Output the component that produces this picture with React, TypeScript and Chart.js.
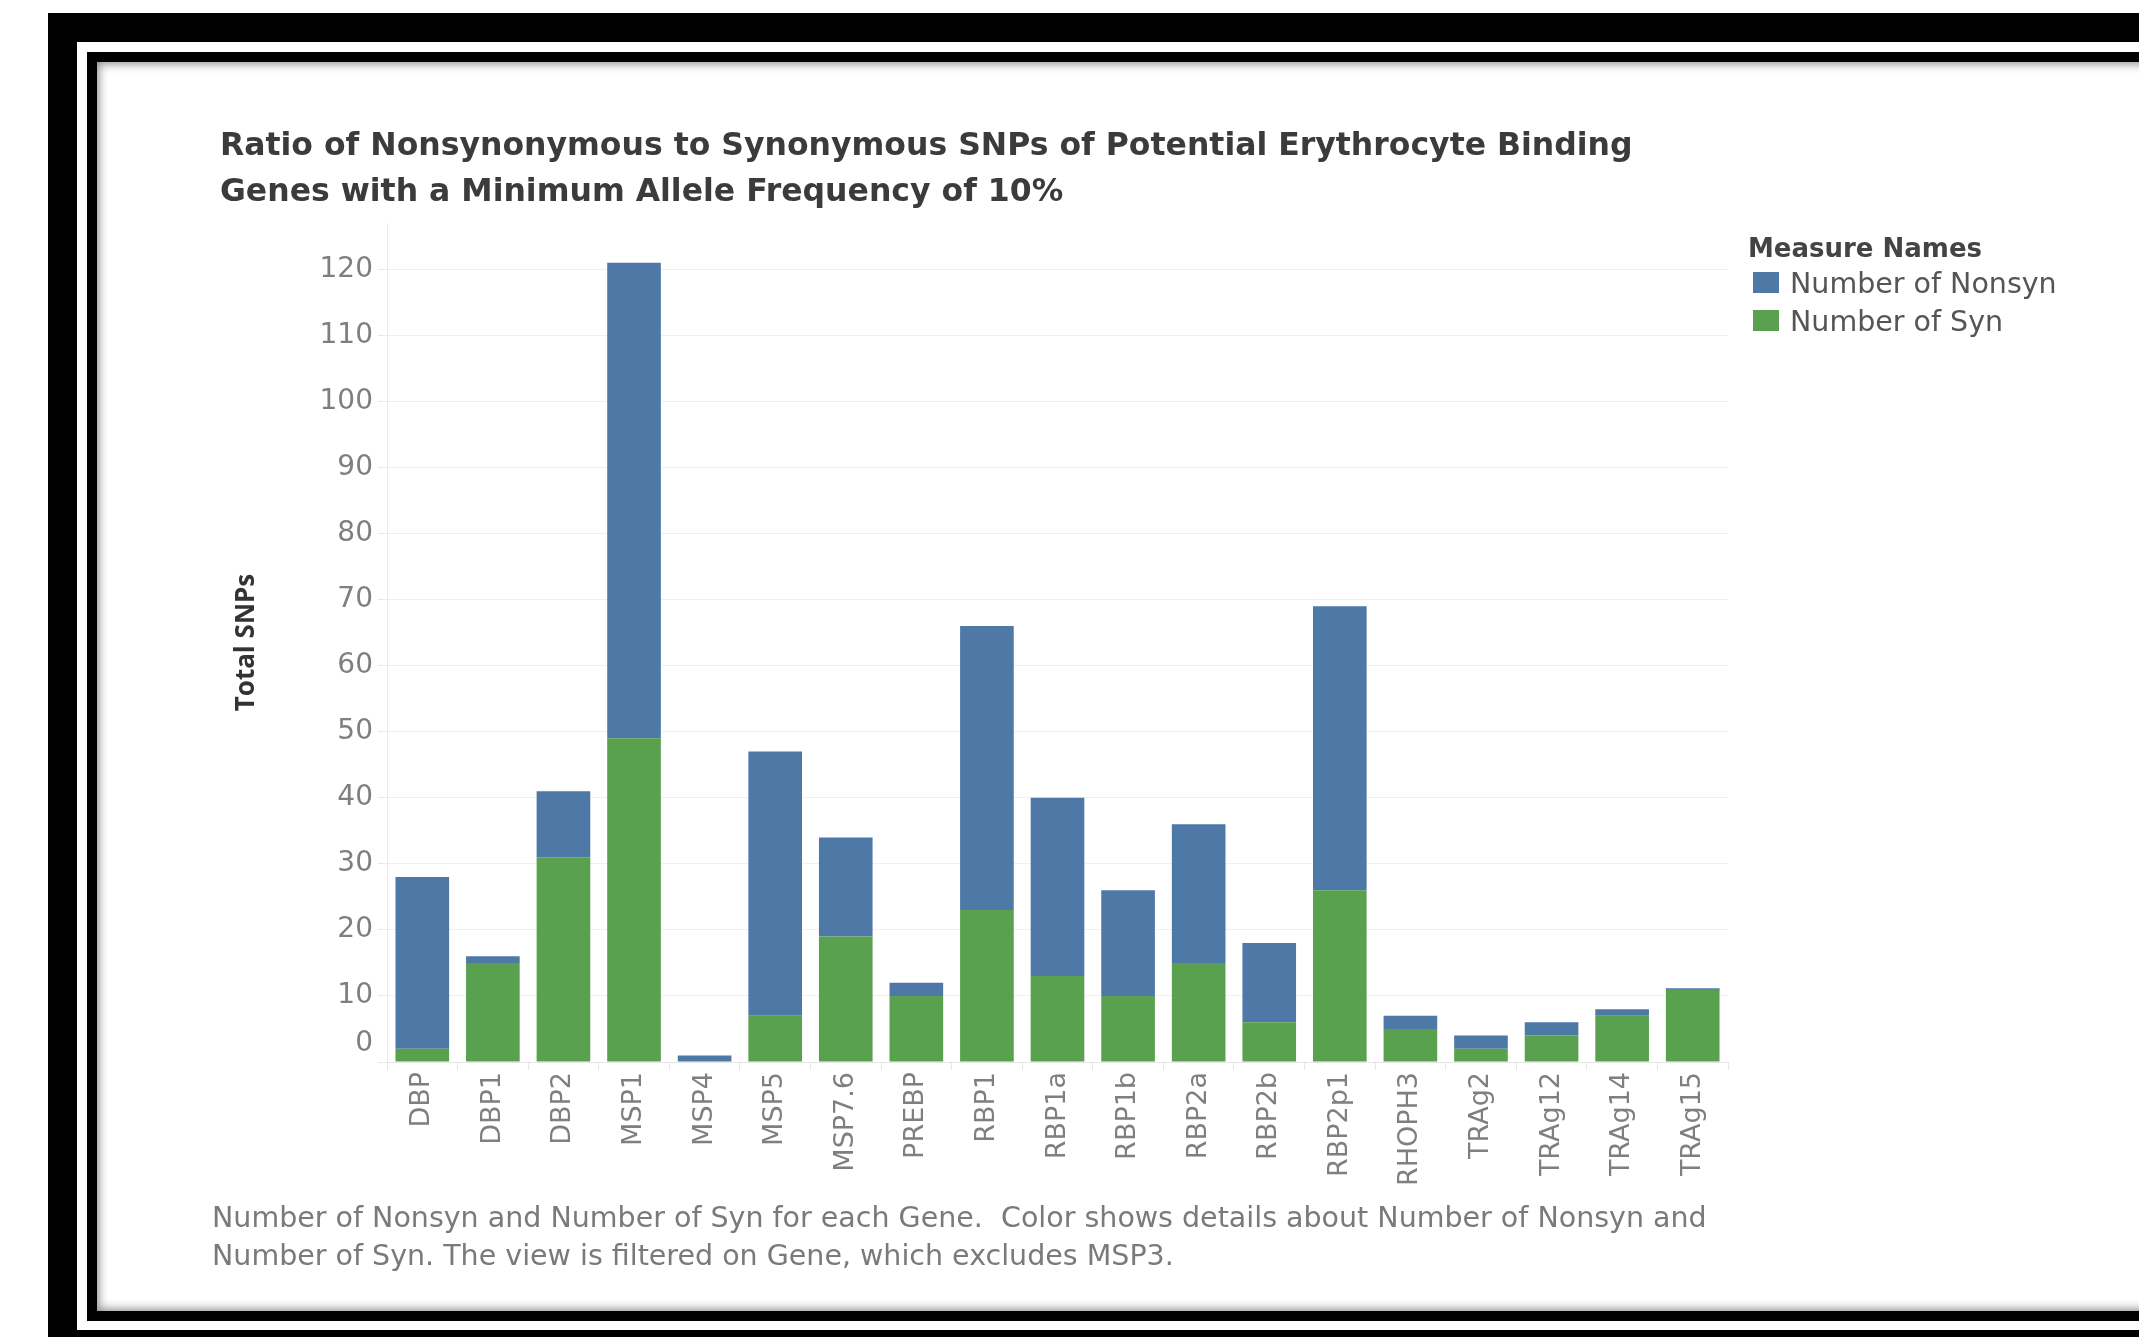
import React, { useEffect, useRef } from 'react';
import { Chart, registerables } from 'chart.js';

Chart.register(...registerables);

// Genes on the category axis
const genes = [
  'DBP', 'DBP1', 'DBP2', 'MSP1', 'MSP4', 'MSP5', 'MSP7.6', 'PREBP', 'RBP1', 'RBP1a',
  'RBP1b', 'RBP2a', 'RBP2b', 'RBP2p1', 'RHOPH3', 'TRAg2', 'TRAg12', 'TRAg14', 'TRAg15',
];

// SNP counts per gene
const nonsynCounts = [26, 1, 10, 72, 1, 40, 15, 2, 43, 27, 16, 21, 12, 43, 2, 2, 2, 1, 0];
const synCounts = [2, 15, 31, 49, 0, 7, 19, 10, 23, 13, 10, 15, 6, 26, 5, 2, 4, 7, 11];

const yMin = 0;
const yMax = 127;
const yStep = 10;

const titleLines = [
  'Ratio of Nonsynonymous to Synonymous SNPs of Potential Erythrocyte Binding',
  'Genes with a Minimum Allele Frequency of 10%',
];
const captionLines = [
  'Number of Nonsyn and Number of Syn for each Gene.  Color shows details about Number of Nonsyn and',
  'Number of Syn. The view is filtered on Gene, which excludes MSP3.',
];
const legendTitle = 'Measure Names';
const nonsynLabel = 'Number of Nonsyn';
const synLabel = 'Number of Syn';
const yAxisTitle = 'Total SNPs';

const BLUE = '#4e79a7';
const GREEN = '#59a14f';
const FONT = '"DejaVu Sans", sans-serif';

// Draws the sheet title, caption and colour legend around the plot
const sheetTextPlugin = {
  id: 'sheetText',
  afterDraw(chart: any) {
    const ctx: CanvasRenderingContext2D = chart.ctx;
    ctx.save();
    ctx.textAlign = 'left';
    ctx.textBaseline = 'alphabetic';

    ctx.fillStyle = '#3b3b3b';
    ctx.font = `bold 31.5px ${FONT}`;
    titleLines.forEach((t, i) => ctx.fillText(t, 220, 155 + i * 45.5));

    ctx.fillStyle = '#7a7a7a';
    ctx.font = `28.5px ${FONT}`;
    captionLines.forEach((t, i) => ctx.fillText(t, 212, 1226.5 + i * 38.5));

    ctx.fillStyle = '#444444';
    ctx.font = `bold 26px ${FONT}`;
    ctx.fillText(legendTitle, 1748, 257);

    const items = [
      { label: nonsynLabel, color: BLUE },
      { label: synLabel, color: GREEN },
    ];
    ctx.font = `28.5px ${FONT}`;
    items.forEach((it, i) => {
      const base = 293 + i * 38;
      ctx.fillStyle = it.color;
      ctx.fillRect(1753, base - 21, 26, 21);
      ctx.fillStyle = '#555555';
      ctx.fillText(it.label, 1790, base);
    });
    ctx.restore();
  },
};

export default function App() {
  const canvasRef = useRef<HTMLCanvasElement>(null);

  useEffect(() => {
    const canvas = canvasRef.current;
    if (!canvas) return;
    const chart = new Chart(canvas, {
      type: 'bar',
      data: {
        labels: genes,
        datasets: [
          {
            label: synLabel,
            data: synCounts,
            backgroundColor: GREEN,
            barPercentage: 0.76,
            categoryPercentage: 1,
          },
          {
            label: nonsynLabel,
            data: nonsynCounts,
            backgroundColor: BLUE,
            barPercentage: 0.76,
            categoryPercentage: 1,
            minBarLength: 2,
          },
        ],
      },
      options: {
        responsive: false,
        maintainAspectRatio: false,
        animation: false,
        devicePixelRatio: 1,
        layout: { padding: { left: 200, top: 223, right: 411, bottom: 125 } },
        plugins: {
          legend: { display: false },
          tooltip: { enabled: false },
          title: { display: false },
        },
        scales: {
          x: {
            stacked: true,
            offset: true,
            grid: {
              offset: true,
              drawOnChartArea: false,
              drawTicks: true,
              tickLength: 8,
              color: '#e6e6e6',
            },
            border: { display: true, color: '#e6e6e6' },
            ticks: {
              autoSkip: false,
              minRotation: 90,
              maxRotation: 90,
              padding: 2,
              color: '#7f7f7f',
              font: { family: FONT, size: 27 },
            },
            afterFit: (scale: any) => {
              scale.height = 150;
            },
          },
          y: {
            stacked: true,
            min: yMin,
            max: yMax,
            afterBuildTicks: (scale: any) => {
              scale.ticks = scale.ticks.filter((t: any) => t.value % yStep === 0);
            },
            ticks: {
              stepSize: yStep,
              autoSkip: false,
              padding: 5,
              color: '#7f7f7f',
              font: { family: FONT, size: 28, lineHeight: 1.3 },
              callback: (v: any) => (v === 0 ? ['0', ''] : String(v)),
            },
            grid: {
              color: '#f0f0f0',
              tickColor: '#e8e8e8',
              tickLength: 9,
            },
            border: { display: true, color: '#ececec' },
            title: {
              display: true,
              text: yAxisTitle,
              color: '#333333',
              font: { family: '"Open Sans", sans-serif', size: 26, weight: 'bold', lineHeight: 1.2 },
              padding: { top: 31, bottom: 0 },
            },
            afterFit: (scale: any) => {
              scale.width = 187;
            },
          },
        },
      },
      plugins: [sheetTextPlugin],
    } as any);
    return () => chart.destroy();
  }, []);

  const box = (left: number, top: number, height: number, bg: string, extra: any = {}) => (
    <div
      style={{
        position: 'absolute',
        left,
        top,
        width: 2300,
        height,
        background: bg,
        ...extra,
      }}
    />
  );

  return (
    <div
      style={{
        position: 'absolute',
        left: 0,
        top: 0,
        width: 2139,
        height: 1337,
        overflow: 'hidden',
        background: '#ffffff',
      }}
    >
      {box(48, 13, 1400, '#000000')}
      {box(77, 42, 1288, '#ffffff')}
      {box(87, 52, 1269, '#000000')}
      {box(97, 62, 1249, '#ffffff', { boxShadow: 'inset 0 0 10px 2px rgba(0,0,0,0.45)' })}
      <canvas
        ref={canvasRef}
        width={2139}
        height={1337}
        style={{ position: 'absolute', left: 0, top: 0, width: 2139, height: 1337 }}
      />
    </div>
  );
}
